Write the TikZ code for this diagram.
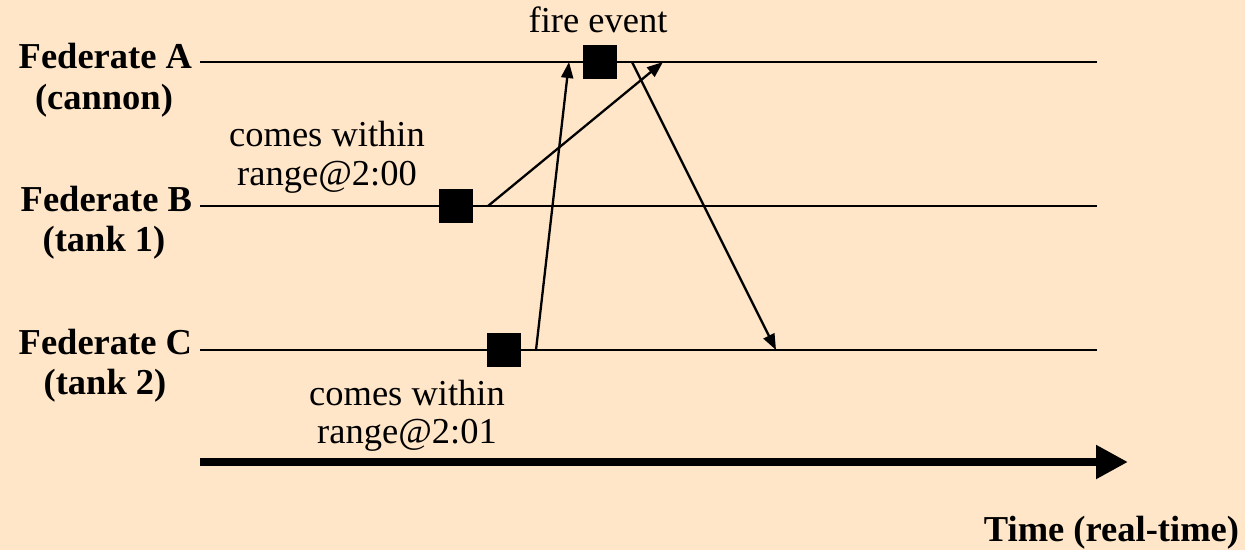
\documentclass[tikz,border=0pt]{standalone}
\usepackage{fontspec}
\setmainfont{Liberation Serif}
\usetikzlibrary{arrows.meta}
\definecolor{bg}{HTML}{FFE6C8}
\begin{document}
\begin{tikzpicture}[x=1pt,y=-1pt,
  every node/.style={inner sep=0pt,outer sep=0pt},
  lbl/.style={font=\fontsize{36.5}{40}\selectfont\bfseries},
  txt/.style={font=\fontsize{36.5}{40}\selectfont},
  tline/.style={line width=2.8pt},
  evt/.style={fill=black,minimum width=34pt,minimum height=34pt},
  msg/.style={line width=2.3pt,-{Triangle[length=16pt,width=12pt]}}]
\fill[bg] (0,0) rectangle (1245,550);
\useasboundingbox (0,0) rectangle (1245,550);
% lifelines
\coordinate (a0) at (200,62); \coordinate (a1) at (1097,62);
\coordinate (b0) at (200,206); \coordinate (b1) at (1097,206);
\coordinate (c0) at (200,350); \coordinate (c1) at (1097,350);
\draw[tline] (a0) -- (a1);
\draw[tline] (b0) -- (b1);
\draw[tline] (c0) -- (c1);
% labels
\node[lbl,anchor=base east] (la) at (192,68) {Federate A};
\node[lbl,anchor=base] (la2) at (104,109) {(cannon)};
\node[lbl,anchor=base east] (lb) at (192,211) {Federate B};
\node[lbl,anchor=base] (lb2) at (104,251) {(tank 1)};
\node[lbl,anchor=base east] (lc) at (192,354) {Federate C};
\node[lbl,anchor=base] (lc2) at (105,394) {(tank 2)};
\node[lbl,anchor=base east] (lt) at (1239,541) {Time (real-time)};
% events
\node[evt] (ea) at (600,62) {};
\node[evt] (eb) at (456,206) {};
\node[evt] (ec) at (504,350) {};
\node[txt,anchor=base] (tf) at (598,32) {fire event};
\node[txt,anchor=base] (tb1) at (327,146) {comes within};
\node[txt,anchor=base] (tb2) at (327,185) {range@2:00};
\node[txt,anchor=base] (tc1) at (407,405) {comes within};
\node[txt,anchor=base] (tc2) at (407,443) {range@2:01};
% messages
\coordinate (s1) at (536,350); \coordinate (t1) at (569,62);
\coordinate (s2) at (488,206); \coordinate (t2) at (663,62);
\coordinate (s3) at (632,62);  \coordinate (t3) at (776,350);
\draw[msg] (s1) -- (t1);
\draw[msg] (s2) -- (t2);
\draw[msg] (s3) -- (t3);
% time axis
\coordinate (x0) at (200,462); \coordinate (x1) at (1128,462);
\draw[line width=8pt,-{Triangle[length=32pt,width=32pt]}] (x0) -- (x1);
\end{tikzpicture}
\end{document}
